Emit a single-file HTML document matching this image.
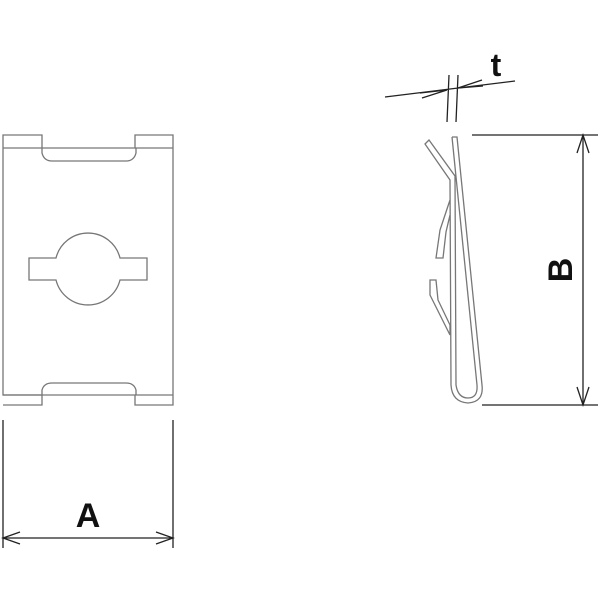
<!DOCTYPE html>
<html><head><style>body{margin:0;background:#fff}svg{display:block}</style></head><body>
<svg width="600" height="600" viewBox="0 0 600 600" xmlns="http://www.w3.org/2000/svg">
<g fill="none" stroke="#777" stroke-width="1.3">
<path d="M3,135 H42 V148 H135 V135 H173 V405 H135 V395 H3 Z"/>
<path d="M3,405 H42 V395"/>
<path d="M3,148 H42 M135,148 H173 M3,395 H42 M135,395 H173"/>
<path d="M42,148 V153 Q44,161 52,161 H126 Q134,161 136,153 V148"/>
<path d="M42,395 V390 Q44,383 52,383 H126 Q134,383 136,390 V395"/>
<path d="M56,258 H29 V280 H56 A33,33 0 0 0 120,280 H147 V258 H120 A33,33 0 0 0 56,258 Z"/>
<path d="M452,137 H457 L482,385 Q484,402 468,403 Q452,402 451,385 L450,180 L425,144 L429,140 L455,176 L456,385 Q458,398 468,398 Q478,398 477,385 L452,137"/>
<path d="M450,200 L440,230 L436,258 L443,258 L446,232 L450,215"/>
<path d="M430,280 L436,280 L438,300 L450,325 L450,335 L440,315 L430,295 Z"/>
</g>
<g stroke="#222" stroke-width="1.3" fill="none">
<path d="M3,420 V548 M173,420 V548 M3,538 H173"/>
<path d="M20,532 L3,538 L20,544 M156,532 L173,538 L156,544"/>
<path d="M472,135 H598 M482,405 H598 M583,135 V405"/>
<path d="M577,153 L583,135 L589,153 M577,387 L583,405 L589,387"/>
<path d="M385,97 L515,81 M447,122 L449,75 M456,122 L458,75"/>
<path d="M420,93 L447,90 L422,98 M483,86 L458,88 L482,80"/>
</g>
<text x="88" y="527" font-family="Liberation Sans, sans-serif" font-weight="bold" font-size="34" text-anchor="middle" fill="#111">A</text>
<text x="496" y="76" font-family="Liberation Sans, sans-serif" font-weight="bold" font-size="32" text-anchor="middle" fill="#111">t</text>
<text transform="translate(572,270) rotate(-90)" font-family="Liberation Sans, sans-serif" font-weight="bold" font-size="34" text-anchor="middle" fill="#111">B</text>
</svg>
</body></html>
